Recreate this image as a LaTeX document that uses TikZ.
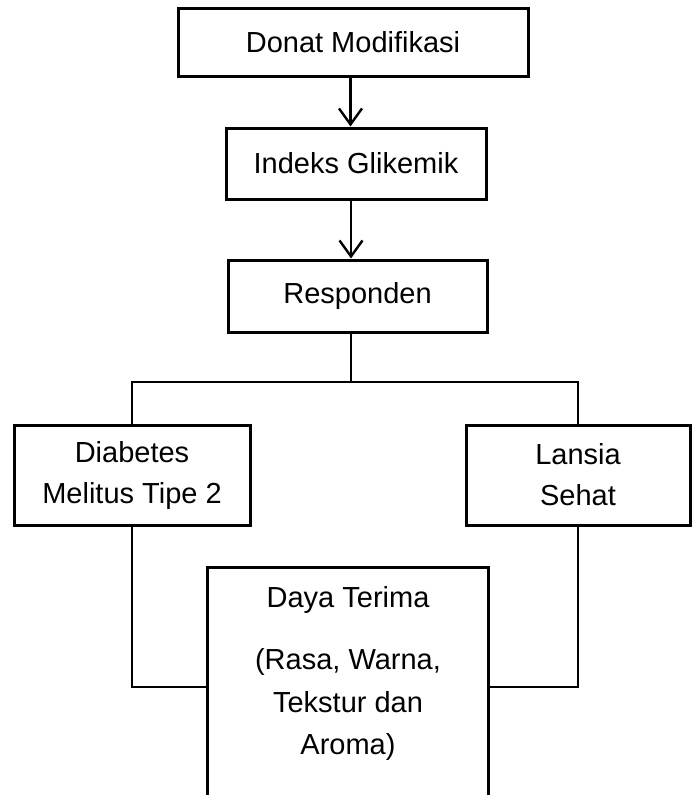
\documentclass[tikz,border=0pt]{standalone}
\usepackage{fontspec}
\setmainfont{Liberation Sans}
\usetikzlibrary{arrows.meta}
\begin{document}
\begin{tikzpicture}[x=1pt,y=-1pt,
  box/.style={draw,line width=3pt,inner sep=0pt,align=center,
    font=\fontsize{29}{41}\selectfont},
  arr/.style={line width=2.4pt,-{Straight Barb[length=16pt,width=23pt,line width=2.4pt]}},
  conn/.style={line width=1.4pt},
  conntwo/.style={line width=2pt},
  txt/.style={inner sep=0pt,align=center,font=\fontsize{29}{42.5}\selectfont}]
\useasboundingbox (0,0) rectangle (691,795);
% boxes
\node[box,minimum width=350pt,minimum height=68pt] (donat) at (353,42) {Donat Modifikasi};
\node[box,minimum width=260pt,minimum height=71pt] (indeks) at (356,163.5) {Indeks Glikemik};
\node[box,minimum width=259pt,minimum height=72pt] (resp) at (357.5,296) {Responden};
\node[box,minimum width=236pt,minimum height=100pt] (diab) at (132,475) {Diabetes\\Melitus Tipe 2};
\node[box,minimum width=224pt,minimum height=100pt] (lans) at (578,475) {Lansia\\Sehat};
% Daya Terima box (open at the bottom)
\node[minimum width=280pt,minimum height=227pt,inner sep=0pt] (daya) at (348,681.5) {};
\draw[line width=3pt] (daya.south west) -- (daya.north west) -- (daya.north east) -- (daya.south east);
\node[txt,anchor=north] (dayatxt) at (348,586) {Daya Terima\\[20pt](Rasa, Warna,\\Tekstur dan\\Aroma)};
% arrows
\draw[arr] (350.5,0 |- donat.south) -- (350.5,0 |- indeks.north);
\draw[arr] (351,0 |- indeks.south) -- (351,0 |- resp.north);
% connectors
\coordinate (j) at (351,382);
\draw[conn] (351,0 |- resp.south) -- (j);
\draw[conn] (diab.north) |- (j) -| (lans.north);
\coordinate (dl) at (0,687);
\draw[conntwo] (diab.south) |- (daya.west |- dl);
\draw[conntwo] (lans.south) |- (daya.east |- dl);
\end{tikzpicture}
\end{document}
